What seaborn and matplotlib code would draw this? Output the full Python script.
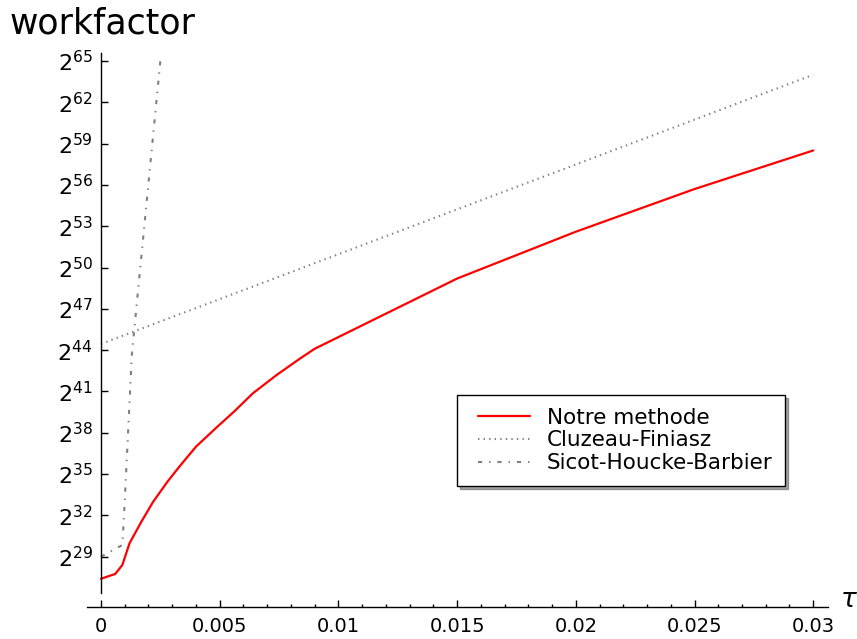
import pandas as pd
import matplotlib
matplotlib.use('Agg')
import matplotlib.pyplot as plt
import seaborn as sns
from matplotlib.lines import Line2D
from matplotlib.legend_handler import HandlerLine2D

# values (workfactor given as log2)
tau_notre = [0, 0.0006, 0.0009, 0.0012, 0.0017, 0.0022, 0.0028, 0.0033, 0.0040,
             0.0049, 0.0056, 0.0064, 0.0074, 0.0084, 0.009, 0.015, 0.02, 0.025, 0.03]
log2_notre = [27.4, 27.75, 28.4, 29.97, 31.54, 33.0, 34.45, 35.54, 36.99,
              38.44, 39.53, 40.87, 42.2, 43.41, 44.1, 49.2, 52.6, 55.7, 58.5]

tau_cf = [0, 0.03]
log2_cf = [44.45, 64.0]

tau_shb = [0, 0.0009, 0.001, 0.0013, 0.0025]
log2_shb = [29.0, 29.85, 33.0, 43.7, 65.0]

x_ticks = [0, 0.005, 0.01, 0.015, 0.02, 0.025, 0.03]
x_tick_labels = ['0', '0.005', '0.01', '0.015', '0.02', '0.025', '0.03']
y_exponents = [29, 32, 35, 38, 41, 44, 47, 50, 53, 56, 59, 62, 65]

sns.set_style('white')
plt.rcParams['lines.scale_dashes'] = False
plt.rcParams['font.family'] = ['DejaVu Sans']
plt.rcParams['text.color'] = 'black'

df_notre = pd.DataFrame({'tau': tau_notre, 'wf': log2_notre})
df_cf = pd.DataFrame({'tau': tau_cf, 'wf': log2_cf})
df_shb = pd.DataFrame({'tau': tau_shb, 'wf': log2_shb})

fig = plt.figure(figsize=(8.57, 6.39), dpi=100)
ax = fig.add_axes([0.1015, 0.0501, 0.8646, 0.867])

sns.lineplot(data=df_notre, x='tau', y='wf', color='red', lw=1.6,
             label='Notre methode', sort=False, ax=ax)
sns.lineplot(data=df_cf, x='tau', y='wf', color='gray', lw=1.5,
             linestyle=(0, (1, 3)), label='Cluzeau-Finiasz', sort=False, ax=ax)
sns.lineplot(data=df_shb, x='tau', y='wf', color='gray', lw=1.5,
             linestyle=(0, (3, 5, 1, 5)), label='Sicot-Houcke-Barbier', sort=False, ax=ax)

ax.set_xlim(-0.00059, 0.03062)
ax.set_ylim(25.35, 65.58)

# sage-like axes
ax.spines['top'].set_visible(False)
ax.spines['right'].set_visible(False)
ax.spines['left'].set_position(('data', 0))
ax.spines['left'].set_bounds(26.37, 65.58)
for s in ['left', 'bottom']:
    ax.spines[s].set_color('black')
    ax.spines[s].set_linewidth(1.0)

ax.set_xticks(x_ticks)
ax.set_xticklabels(x_tick_labels)
ax.set_xticks([i * 0.001 for i in range(31)], minor=True)
ax.set_yticks(y_exponents)
ax.set_yticklabels([f'$2^{{{k}}}$' for k in y_exponents])

ax.tick_params(axis='both', which='major', direction='in', length=5, width=1,
               colors='black', labelcolor='black')
ax.tick_params(axis='x', which='minor', direction='in', length=2.5, width=1,
               colors='black', bottom=True)
ax.tick_params(axis='x', which='major', pad=7, labelsize=14)
ax.tick_params(axis='y', which='major', pad=6, labelsize=16)
ax.tick_params(left=True, bottom=True)

ax.set_xlabel('')
ax.set_ylabel('')
fig.text(10 / 857, 1 - 33 / 639, 'workfactor', fontsize=25, va='baseline', ha='left')
fig.text(840 / 857, 1 - 607 / 639, r'$\tau$', fontsize=19, va='baseline', ha='left')

leg = ax.legend(loc='upper left', bbox_to_anchor=(457 / 857, 1 - 395 / 639),
                bbox_transform=fig.transFigure, fontsize=15.5, frameon=True,
                fancybox=False, shadow=True, framealpha=1, edgecolor='black',
                handlelength=2.77, handletextpad=0.8, labelspacing=0.12,
                borderpad=0.6, borderaxespad=0,
                handler_map={Line2D: HandlerLine2D(xpad=0.37)})
leg.get_frame().set_linewidth(1.0)
for t in leg.get_texts():
    t.set_color('black')

fig.savefig('out.png', dpi=100)
